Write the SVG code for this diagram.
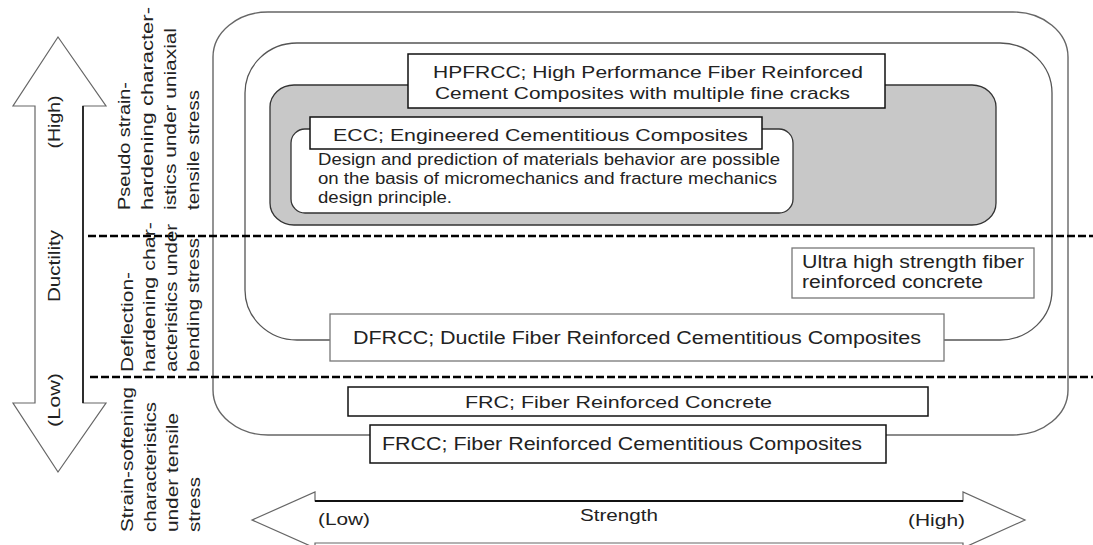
<svg xmlns="http://www.w3.org/2000/svg" width="1093" height="545" viewBox="0 0 1093 545">
<style>
text{font-family:"Liberation Sans",Arial,sans-serif;fill:#222;}
.lbl{font-size:17px;}
.big{font-size:18px;}
.desc{font-size:16px;}
.rot{font-size:17px;}
.box{fill:#fff;stroke:#111;stroke-width:1.5;}
.boxg{fill:#fff;stroke:#777;stroke-width:1.3;}
.dash{stroke:#000;stroke-width:2.5;stroke-dasharray:8 3;fill:none;}
.arr{fill:#fff;stroke:#666;stroke-width:1.2;}
</style>
<rect x="0" y="0" width="1093" height="545" fill="#fff"/>
<g id="frcc-region">
<rect x="213" y="12" width="855" height="423" rx="55" ry="45" fill="none" stroke="#666" stroke-width="1.4"/>
</g>
<g id="dfrcc-region">
<rect x="245" y="43" width="807" height="297" rx="52" ry="50" fill="none" stroke="#555" stroke-width="1.3"/>
</g>
<g id="hpfrcc-region">
<rect x="270" y="85" width="726" height="140" rx="24" ry="22" fill="#c8c8c8" stroke="#333" stroke-width="1.3"/>
</g>
<g id="ecc-region">
<rect x="291" y="129" width="502" height="84" rx="14" ry="14" fill="#fff" stroke="#333" stroke-width="1.3"/>
<text class="desc" x="318" y="165" textLength="462" lengthAdjust="spacingAndGlyphs">Design and prediction of materials behavior are possible</text>
<text class="desc" x="318" y="184" textLength="459" lengthAdjust="spacingAndGlyphs">on the basis of micromechanics and fracture mechanics</text>
<text class="desc" x="318" y="203" textLength="134" lengthAdjust="spacingAndGlyphs">design principle.</text>
</g>
<g id="hpfrcc">
<rect class="box" x="408" y="54" width="477" height="54"/>
<text class="lbl" x="433" y="78" textLength="430" lengthAdjust="spacingAndGlyphs">HPFRCC; High Performance Fiber Reinforced</text>
<text class="lbl" x="435" y="99" textLength="415" lengthAdjust="spacingAndGlyphs">Cement Composites with multiple fine cracks</text>
</g>
<g id="ecc">
<rect class="box" x="310" y="117" width="452" height="32"/>
<text class="lbl" x="333" y="141" textLength="415" lengthAdjust="spacingAndGlyphs">ECC; Engineered Cementitious Composites</text>
</g>
<g id="uhsfrc">
<rect class="boxg" x="792" y="248" width="242" height="50" stroke="#555"/>
<text class="big" x="802" y="268" textLength="222" lengthAdjust="spacingAndGlyphs">Ultra high strength fiber</text>
<text class="big" x="802" y="288" textLength="181" lengthAdjust="spacingAndGlyphs">reinforced concrete</text>
</g>
<g id="dfrcc">
<rect class="boxg" x="330" y="314" width="614" height="47"/>
<text class="big" x="353" y="344" textLength="568" lengthAdjust="spacingAndGlyphs">DFRCC; Ductile Fiber Reinforced Cementitious Composites</text>
</g>
<g id="frc">
<rect class="box" x="348" y="387" width="580" height="29"/>
<text class="lbl" x="465" y="408" textLength="307" lengthAdjust="spacingAndGlyphs">FRC; Fiber Reinforced Concrete</text>
</g>
<g id="frcc">
<rect class="box" x="370" y="425" width="516" height="38" stroke="#333"/>
<text class="big" x="382" y="450" textLength="480" lengthAdjust="spacingAndGlyphs">FRCC; Fiber Reinforced Cementitious Composites</text>
</g>
<g id="connectors">
<line class="dash" x1="88" y1="236" x2="1093" y2="236"/>
<line class="dash" x1="90" y1="377" x2="1093" y2="377"/>
</g>
<g id="ductility-axis">
<polygon class="arr" points="58,37 106,106 83,106 83,403 106,403 58,472 13,403 35,403 35,106 13,106"/>
<line x1="83" y1="106" x2="83" y2="403" stroke="#111" stroke-width="1.6"/>
<text class="rot" transform="translate(60,122) rotate(-90)" text-anchor="middle" textLength="53" lengthAdjust="spacingAndGlyphs">(High)</text>
<text class="rot" transform="translate(60,266) rotate(-90)" text-anchor="middle" textLength="72" lengthAdjust="spacingAndGlyphs">Ductility</text>
<text class="rot" transform="translate(60,400) rotate(-90)" text-anchor="middle" textLength="54" lengthAdjust="spacingAndGlyphs">(Low)</text>
</g>
<g id="strength-axis">
<polygon class="arr" points="252,520 315,492 315,501 963,501 963,492 1025,520 963,548 963,543 315,543 315,548"/>
<line x1="315" y1="501" x2="963" y2="501" stroke="#111" stroke-width="1.8"/>
<text class="rot" x="318" y="525" textLength="52" lengthAdjust="spacingAndGlyphs">(Low)</text>
<text class="rot" x="580" y="521" textLength="78" lengthAdjust="spacingAndGlyphs">Strength</text>
<text class="rot" x="908" y="526" textLength="57" lengthAdjust="spacingAndGlyphs">(High)</text>
</g>
<g id="pseudo-strain-hardening">
<text class="rot" transform="translate(130,210) rotate(-90)" textLength="128" lengthAdjust="spacingAndGlyphs">Pseudo strain-</text>
<text class="rot" transform="translate(153,210) rotate(-90)" textLength="203" lengthAdjust="spacingAndGlyphs">hardening character-</text>
<text class="rot" transform="translate(176,210) rotate(-90)" textLength="182" lengthAdjust="spacingAndGlyphs">istics under uniaxial</text>
<text class="rot" transform="translate(199,210) rotate(-90)" textLength="120" lengthAdjust="spacingAndGlyphs">tensile stress</text>
</g>
<g id="deflection-hardening">
<text class="rot" transform="translate(133,372) rotate(-90)" textLength="100" lengthAdjust="spacingAndGlyphs">Deflection-</text>
<text class="rot" transform="translate(155,372) rotate(-90)" textLength="150" lengthAdjust="spacingAndGlyphs">hardening char-</text>
<text class="rot" transform="translate(177,372) rotate(-90)" textLength="148" lengthAdjust="spacingAndGlyphs">acteristics under</text>
<text class="rot" transform="translate(199,372) rotate(-90)" textLength="134" lengthAdjust="spacingAndGlyphs">bending stress</text>
</g>
<g id="strain-softening">
<text class="rot" transform="translate(133,532) rotate(-90)" textLength="145" lengthAdjust="spacingAndGlyphs">Strain-softening</text>
<text class="rot" transform="translate(156,532) rotate(-90)" textLength="130" lengthAdjust="spacingAndGlyphs">characteristics</text>
<text class="rot" transform="translate(178,532) rotate(-90)" textLength="119" lengthAdjust="spacingAndGlyphs">under tensile</text>
<text class="rot" transform="translate(200,532) rotate(-90)" textLength="55" lengthAdjust="spacingAndGlyphs">stress</text>
</g>
</svg>
